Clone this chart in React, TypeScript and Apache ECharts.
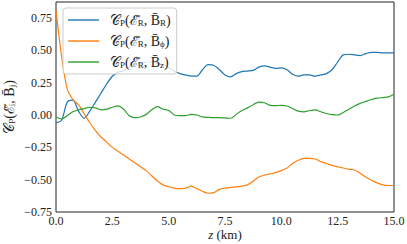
import React, { useEffect, useRef } from "react";
import * as echarts from "echarts";

const zKm = [
  0, 0.25, 0.5, 0.75, 1, 1.25, 1.5, 1.75, 2, 2.25, 2.5, 2.75, 3, 3.25, 3.5, 3.75,
  4, 4.25, 4.5, 4.75, 5, 5.25, 5.5, 5.75, 6, 6.25, 6.5, 6.75, 7, 7.25, 7.5, 7.75,
  8, 8.25, 8.5, 8.75, 9, 9.25, 9.5, 9.75, 10, 10.25, 10.5, 10.75, 11, 11.25, 11.5, 11.75,
  12, 12.25, 12.5, 12.75, 13, 13.25, 13.5, 13.75, 14, 14.25, 14.5, 14.75, 15,
];

const cpBR = [
  -0.06, -0.04, 0.1, 0.115, 0.03, -0.025, 0.03, 0.1, 0.17, 0.24, 0.3, 0.33, 0.34, 0.37, 0.39, 0.4,
  0.41, 0.41, 0.4, 0.39, 0.37, 0.34, 0.32, 0.31, 0.3, 0.3, 0.35, 0.39, 0.385, 0.35, 0.31, 0.295,
  0.32, 0.335, 0.34, 0.345, 0.37, 0.38, 0.37, 0.36, 0.365, 0.35, 0.315, 0.3, 0.31, 0.31, 0.3, 0.31,
  0.32, 0.35, 0.41, 0.465, 0.47, 0.465, 0.46, 0.475, 0.485, 0.485, 0.48, 0.48, 0.48,
];

const cpBphi = [
  0.81, 0.45, 0.2, 0.12, 0.08, 0.01, -0.06, -0.12, -0.17, -0.21, -0.25, -0.28, -0.31, -0.34, -0.37, -0.4,
  -0.43, -0.47, -0.51, -0.54, -0.555, -0.565, -0.57, -0.565, -0.55, -0.57, -0.59, -0.605, -0.6, -0.575, -0.565, -0.56,
  -0.555, -0.55, -0.54, -0.51, -0.48, -0.465, -0.455, -0.445, -0.43, -0.41, -0.375, -0.35, -0.335, -0.335, -0.34, -0.36,
  -0.375, -0.39, -0.4, -0.41, -0.42, -0.425, -0.45, -0.48, -0.505, -0.525, -0.54, -0.545, -0.545,
];

const cpBz = [
  -0.015, -0.03, -0.005, 0.025, 0.04, 0.05, 0.06, 0.055, 0.04, 0.045, 0.06, 0.07, 0.045, -0.005, -0.02, -0.015,
  0.005, 0.04, 0.065, 0.045, 0.035, 0.0, -0.005, -0.005, 0.005, 0.0, -0.015, -0.018, -0.02, -0.02, -0.022, -0.025,
  0.005, 0.035, 0.055, 0.08, 0.1, 0.095, 0.075, 0.072, 0.075, 0.07, 0.05, 0.03, 0.025, 0.035, 0.04, 0.025,
  0.012, 0.003, 0.0, 0.02, 0.045, 0.07, 0.09, 0.105, 0.12, 0.13, 0.135, 0.14, 0.16,
];

const seriesNames = ["BR", "Bphi", "Bz"];
const seriesSubs = ["R", "ϕ", "z"];
const seriesColors = ["#1f77b4", "#ff7f0e", "#2ca02c"];
const xTicks = { min: 0, max: 15, interval: 2.5 };
const yTicks = { min: -0.75, max: 0.874, interval: 0.25 };

const SERIF = "serif";

export default function App() {
  const ref = useRef<HTMLDivElement>(null);
  useEffect(() => {
    if (!ref.current) return;
    const chart = echarts.init(ref.current, null, { renderer: "svg" });
    const dataSets = [cpBR, cpBphi, cpBz];
    const richMain = {
      m: { fontFamily: SERIF, fontSize: 14, color: "#222" },
      s: { fontFamily: SERIF, fontSize: 9, color: "#222", verticalAlign: "bottom", lineHeight: 12 },
    };
    chart.setOption({
      animation: false,
      grid: {
        left: 56,
        top: 2,
        right: 13,
        bottom: 32,
        show: true,
        borderColor: "#222",
        borderWidth: 1,
        outerBoundsMode: "none",
        containLabel: false,
      },
      legend: {
        orient: "vertical",
        left: 63,
        top: 8,
        padding: [5, 6, 5, 5],
        icon: "rect",
        itemWidth: 31,
        itemHeight: 1.4,
        itemGap: 7,
        borderColor: "#cccccc",
        borderWidth: 1,
        borderRadius: 3,
        backgroundColor: "rgba(255,255,255,0.8)",
        data: seriesNames,
        formatter: (name: string) => {
          const i = seriesNames.indexOf(name);
          return `{m|𝒞}{s|P}{m|(ℰ̄}{s|R}{m|, B̄}{s|${seriesSubs[i]}}{m|)}`;
        },
        textStyle: { fontFamily: SERIF, fontSize: 14, color: "#222", padding: [0, 0, 0, 6], rich: richMain },
      },
      xAxis: {
        type: "value",
        min: xTicks.min,
        max: xTicks.max,
        interval: xTicks.interval,
        axisLine: { show: false },
        axisTick: { show: false },
        splitLine: { show: false },
        axisLabel: {
          fontFamily: SERIF,
          fontSize: 12,
          color: "#222",
          margin: 3,
          formatter: (v: number) => v.toFixed(1),
        },
        name: "{i|z} {n|(km)}",
        nameLocation: "middle",
        nameGap: 16,
        nameMoveOverlap: false,
        nameTextStyle: {
          fontFamily: SERIF,
          fontSize: 13,
          rich: {
            i: { fontFamily: SERIF, fontSize: 13, fontStyle: "italic", color: "#222" },
            n: { fontFamily: SERIF, fontSize: 13, color: "#222" },
          },
        },
      },
      yAxis: {
        type: "value",
        min: yTicks.min,
        max: yTicks.max,
        interval: yTicks.interval,
        axisLine: { show: false },
        axisTick: { show: false },
        splitLine: { show: false },
        axisLabel: {
          fontFamily: SERIF,
          fontSize: 12,
          color: "#222",
          margin: 4,
          showMaxLabel: false,
          formatter: (v: number) => (v < 0 ? "−" + Math.abs(v).toFixed(2) : v.toFixed(2)),
        },
        name: "{m|𝒞}{s|P}{m|(ℰ̄}{s|i}{m|, B̄}{s|j}{m|)}",
        nameLocation: "middle",
        nameGap: 40,
        nameMoveOverlap: false,
        nameTextStyle: { fontFamily: SERIF, rich: richMain },
      },
      series: dataSets.map((d, i) => ({
        name: seriesNames[i],
        type: "line",
        data: zKm.map((z, k) => [z, d[k]]),
        symbol: "none",
        showSymbol: false,
        lineStyle: { color: seriesColors[i], width: 1.2 },
        itemStyle: { color: seriesColors[i] },
        smooth: 0.3,
        z: 2,
      })),
    });
    return () => chart.dispose();
  }, []);
  return <div ref={ref} style={{ width: 407, height: 244, position: "absolute", left: 0, top: 0 }} />;
}
